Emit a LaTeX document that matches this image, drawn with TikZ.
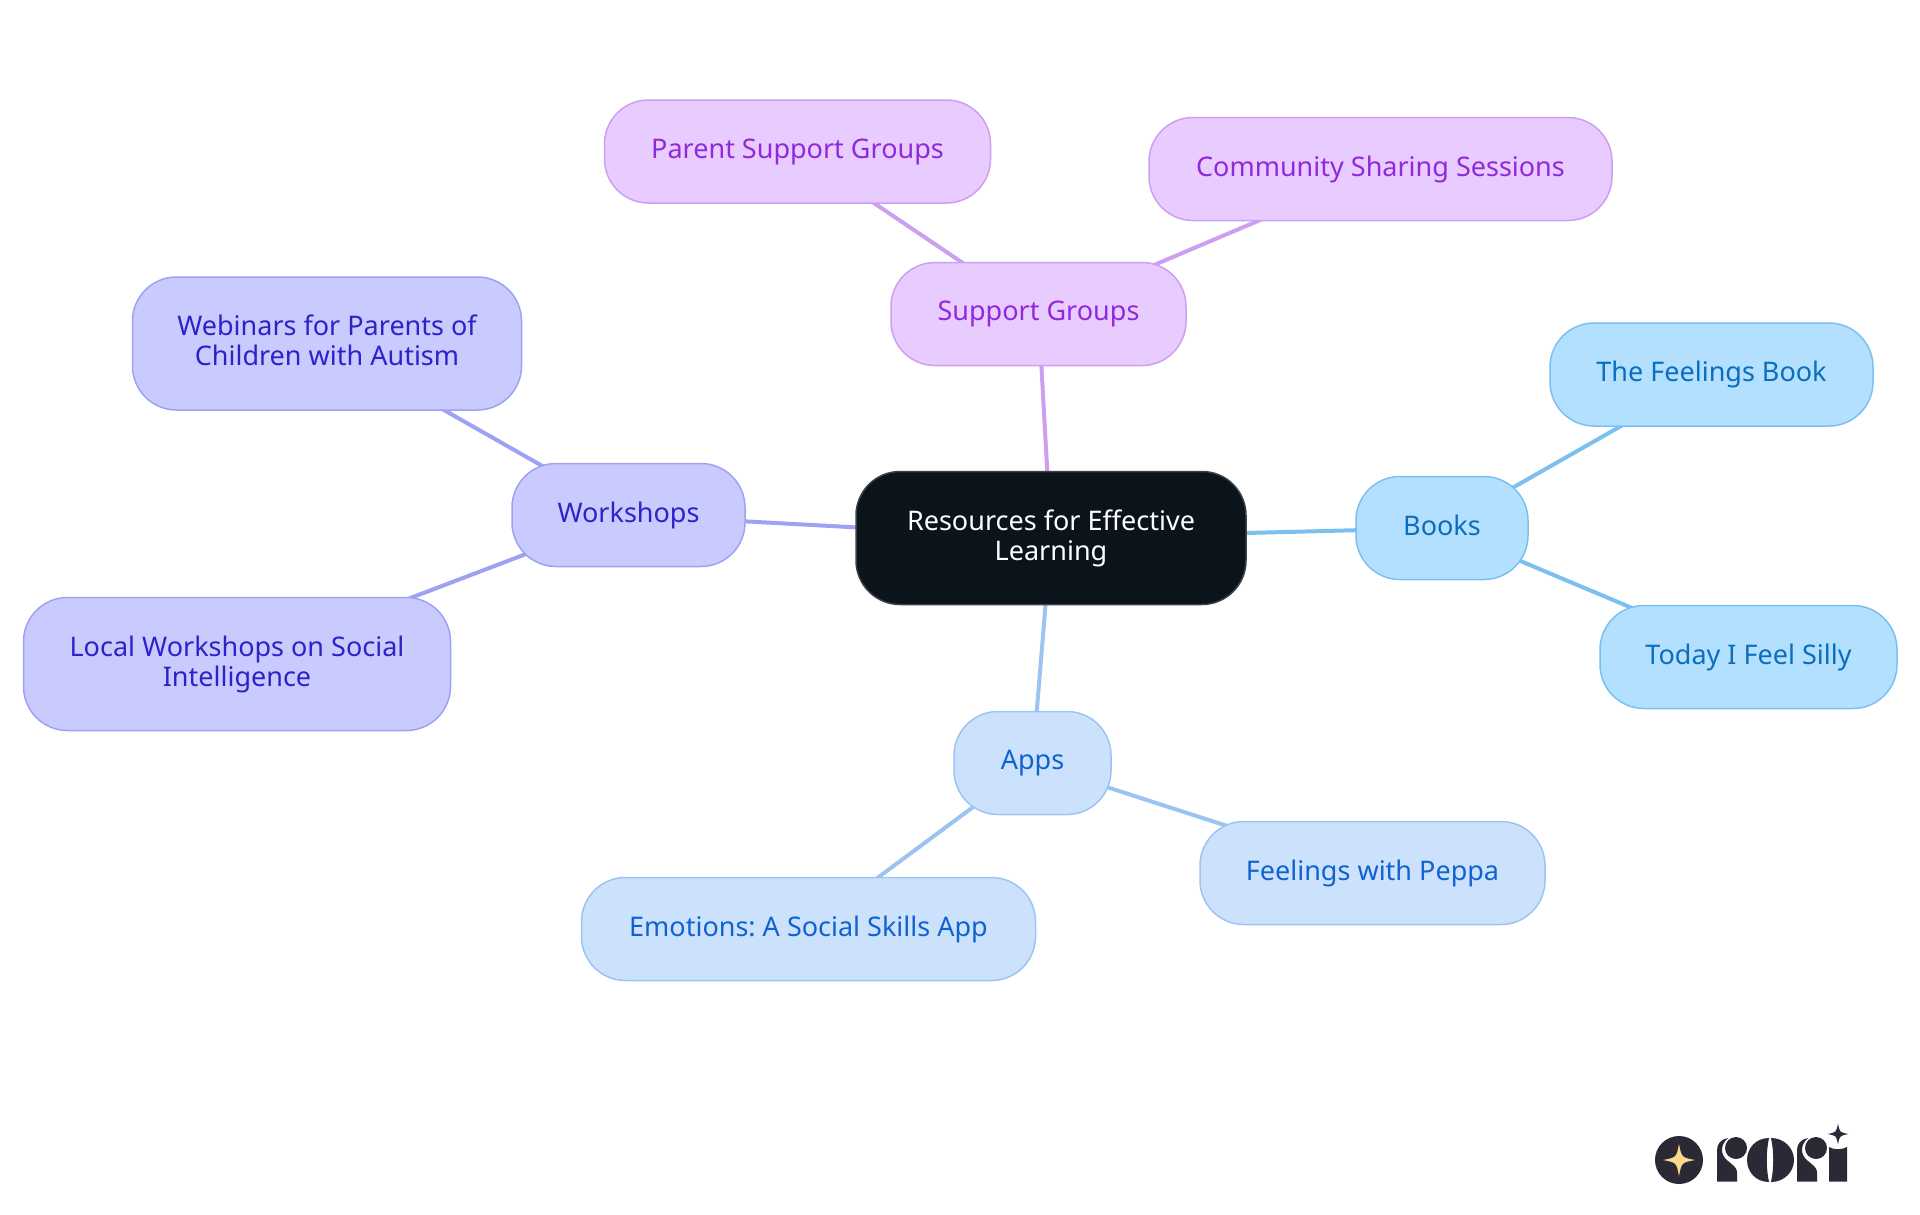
\documentclass[tikz,border=0pt]{standalone}
\usepackage{fontspec}
\setmainfont{Noto Sans}
\usetikzlibrary{backgrounds}
\definecolor{inkroot}{HTML}{0B131B}
\definecolor{fillbooks}{HTML}{B3E0FF}
\definecolor{edgebooks}{HTML}{7CC0F0}
\definecolor{textbooks}{HTML}{0A6EBD}
\definecolor{fillapps}{HTML}{CCE2FC}
\definecolor{edgeapps}{HTML}{9BC4F2}
\definecolor{textapps}{HTML}{0F62CF}
\definecolor{fillshops}{HTML}{C9CBFF}
\definecolor{edgeshops}{HTML}{9DA2F2}
\definecolor{textshops}{HTML}{2A23C8}
\definecolor{fillgroups}{HTML}{E8CBFF}
\definecolor{edgegroups}{HTML}{CD9FF0}
\definecolor{textgroups}{HTML}{9028DC}
\definecolor{inklogo}{HTML}{2A2935}
\definecolor{goldlogo}{HTML}{FBD98C}
\begin{document}
\begin{tikzpicture}[x=1pt,y=-1pt,
			topic/.style={rounded corners=44pt,line width=1.5pt,inner sep=0pt,align=center,
				font=\fontsize{27}{30}\selectfont\frenchspacing,minimum height=103pt},
			tall/.style={minimum height=133pt},
			rootnode/.style={topic,tall,fill=inkroot,draw=inkroot!80!white,text=white},
			booksnode/.style={topic,fill=fillbooks,draw=edgebooks,text=textbooks},
			appsnode/.style={topic,fill=fillapps,draw=edgeapps,text=textapps},
			shopsnode/.style={topic,fill=fillshops,draw=edgeshops,text=textshops},
			groupsnode/.style={topic,fill=fillgroups,draw=edgegroups,text=textgroups},
			link/.style={line width=4pt},
			sparkle/.pic={\path[pic actions] (0,-1) .. controls (0.16,-0.16) .. (1,0) .. controls (0.16,0.16) .. (0,1) .. controls (-0.16,0.16) .. (-1,0) .. controls (-0.16,-0.16) .. (0,-1) -- cycle;}]
			\useasboundingbox (0,0) rectangle (1920,1215);
			\node[rootnode,minimum width=390pt] (root) at (1051,538) {Resources for Effective\\Learning};
			\node[groupsnode,minimum width=295pt] (groups) at (1038.5,314) {Support Groups};
			\node[groupsnode,minimum width=386pt] (parent) at (797.5,151.5) {Parent Support Groups};
			\node[groupsnode,minimum width=463pt] (community) at (1380.5,169) {Community Sharing Sessions};
			\node[shopsnode,minimum width=233pt] (shops) at (628.5,515) {Workshops};
			\node[shopsnode,tall,minimum width=389pt] (webinars) at (327,343.5) {Webinars for Parents of\\Children with Autism\vphantom{g}};
			\node[shopsnode,tall,minimum width=427pt] (local) at (237,664) {Local Workshops on Social\\Intelligence};
			\node[booksnode,minimum width=172pt] (books) at (1442,528) {Books\vphantom{g}};
			\node[booksnode,minimum width=323pt] (feelings) at (1711.5,374.5) {The Feelings Book};
			\node[booksnode,minimum width=297pt] (silly) at (1748.5,657) {Today I Feel Silly};
			\node[appsnode,minimum width=157pt] (apps) at (1032.5,763) {Apps};
			\node[appsnode,minimum width=345pt] (peppa) at (1372.5,873) {Feelings with Peppa};
			\node[appsnode,minimum width=454pt] (emotions) at (808.5,929) {Emotions: A Social Skills App};
			\begin{scope}[on background layer]
				\draw[link,edgegroups] (root.center) -- (groups.center);
				\draw[link,edgegroups] (groups.center) -- (parent.center);
				\draw[link,edgegroups] (groups.center) -- (community.center);
				\draw[link,edgeshops] (root.center) -- (shops.center);
				\draw[link,edgeshops] (shops.center) -- (webinars.center);
				\draw[link,edgeshops] (shops.center) -- (local.center);
				\draw[link,edgebooks] (root.center) -- (books.center);
				\draw[link,edgebooks] (books.center) -- (feelings.center);
				\draw[link,edgebooks] (books.center) -- (silly.center);
				\draw[link,edgeapps] (root.center) -- (apps.center);
				\draw[link,edgeapps] (apps.center) -- (peppa.center);
				\draw[link,edgeapps] (apps.center) -- (emotions.center);
			\end{scope}
			\fill[inklogo] (1679,1160) circle[radius=24];
			\path (1679,1160) pic[scale=16,fill=goldlogo] {sparkle};
			\fill[inklogo] (1717,1181.5) -- (1717,1150) .. controls (1717,1144) and (1721,1139) .. (1728,1138) .. controls (1721,1144) and (1719,1154) .. (1728,1161) .. controls (1733,1165) and (1737,1168) .. (1737,1172) -- (1737,1181.5) -- cycle;
			\fill[inklogo] (1736,1148) circle[radius=11];
			\fill[inklogo] (1769,1138) .. controls (1756,1138) and (1747,1148) .. (1747,1160) .. controls (1747,1172) and (1756,1182) .. (1769,1182) .. controls (1766,1168) and (1766,1152) .. (1769,1138) -- cycle;
			\fill[inklogo] (1771,1138) .. controls (1784,1138) and (1794,1148) .. (1794,1160) .. controls (1794,1172) and (1784,1182) .. (1771,1182) .. controls (1774,1168) and (1774,1152) .. (1771,1138) -- cycle;
			\fill[inklogo] (1797,1181.5) -- (1797,1150) .. controls (1797,1144) and (1801,1139) .. (1808,1138) .. controls (1801,1144) and (1799,1154) .. (1808,1161) .. controls (1813,1165) and (1817,1168) .. (1817,1172) -- (1817,1181.5) -- cycle;
			\fill[inklogo] (1816,1148) circle[radius=11];
			\fill[inklogo] (1829,1181.5) -- (1829,1147) .. controls (1834,1150) and (1842,1150) .. (1847,1147) -- (1847,1181.5) -- cycle;
			\path (1838,1134) pic[scale=10.5,fill=inklogo] {sparkle};
\end{tikzpicture}
\end{document}
